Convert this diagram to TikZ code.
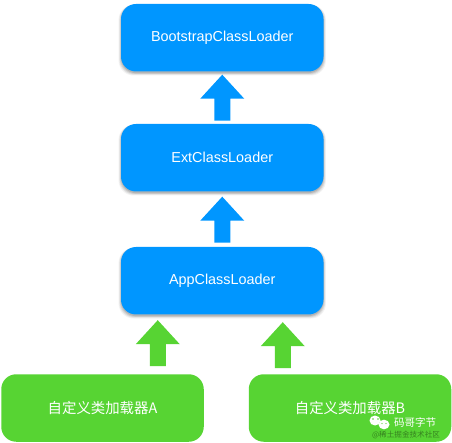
\documentclass[tikz,border=0pt]{standalone}
\usepackage{fontspec}
\setmainfont{Liberation Sans}
\newfontfamily\cjk{Noto Sans CJK SC}
\usetikzlibrary{calc,backgrounds}
\definecolor{bluefill}{HTML}{0096FF}
\definecolor{greenfill}{HTML}{57D433}
\tikzset{
  x=1pt,y=-1pt,
  loader/.style={rounded corners=15pt,fill=#1,text=white,minimum height=67.5pt,inner sep=0pt,font=\fontsize{14.4}{17}\selectfont},
  bluebox/.style={loader=bluefill,minimum width=202.5pt},
  greenbox/.style={loader=greenfill,minimum width=202.5pt,font=\fontsize{14.4}{17}\cjk},
  blockarrow/.pic={
    \fill[pic actions] (0,0) -- (22,24) -- (8,24) -- (8,46) -- (-8,46) -- (-8,24) -- (-22,24) -- cycle;
  },
}
\newcommand{\softshadow}[1]{%
  \foreach \d/\o in {3.2/0.05,2.4/0.07,1.6/0.09,0.8/0.11}{
    \fill[black,opacity=\o,rounded corners=15pt]
      ($(#1.north west)+(-\d+1,1)$) rectangle ($(#1.south east)+(\d-1,\d+0.6)$);
  }}
\begin{document}
\begin{tikzpicture}
\useasboundingbox (0,0) rectangle (452,443);
\node[bluebox] (boot) at (222.25,37.75) {BootstrapClassLoader};
\node[bluebox] (ext) at (222.25,157.75) {ExtClassLoader};
\node[bluebox] (app) at (222.25,280.75) {AppClassLoader};
\node[greenbox] (a) at (102.5,408) {自定义类加载器A};
\node[greenbox] (b) at (350,408) {自定义类加载器B};
\begin{scope}[on background layer]
\fill[white] (0,0) rectangle (452,443);
\softshadow{boot}\softshadow{ext}\softshadow{app}
\end{scope}
\path ($(boot.south)+(0,3)$) pic[fill=bluefill] {blockarrow};
\path ($(ext.south)+(0,5)$) pic[fill=bluefill] {blockarrow};
\path ($(app.south)+(-64.5,5.5)$) pic[fill=greenfill] {blockarrow};
\path ($(app.south)+(60.5,7.5)$) pic[fill=greenfill] {blockarrow};
% watermark
\fill[white] (375,420.5) ellipse (5.5 and 5);
\fill[white] (384,424.5) ellipse (5.5 and 4.8);
\fill[greenfill] (373,419) circle (0.8) (378,419) circle (0.8) (382,423.5) circle (0.7) (386,423.5) circle (0.7);
\node[text=white,inner sep=0pt,font=\fontsize{10.5}{12}\cjk] (wm) at (415,422.5) {码哥字节};
\node[text=black!55!greenfill,opacity=0.7,inner sep=0pt,font=\fontsize{7.6}{9}\cjk] (wm2) at (406,434.5) {@稀土掘金技术社区};
\end{tikzpicture}
\end{document}
